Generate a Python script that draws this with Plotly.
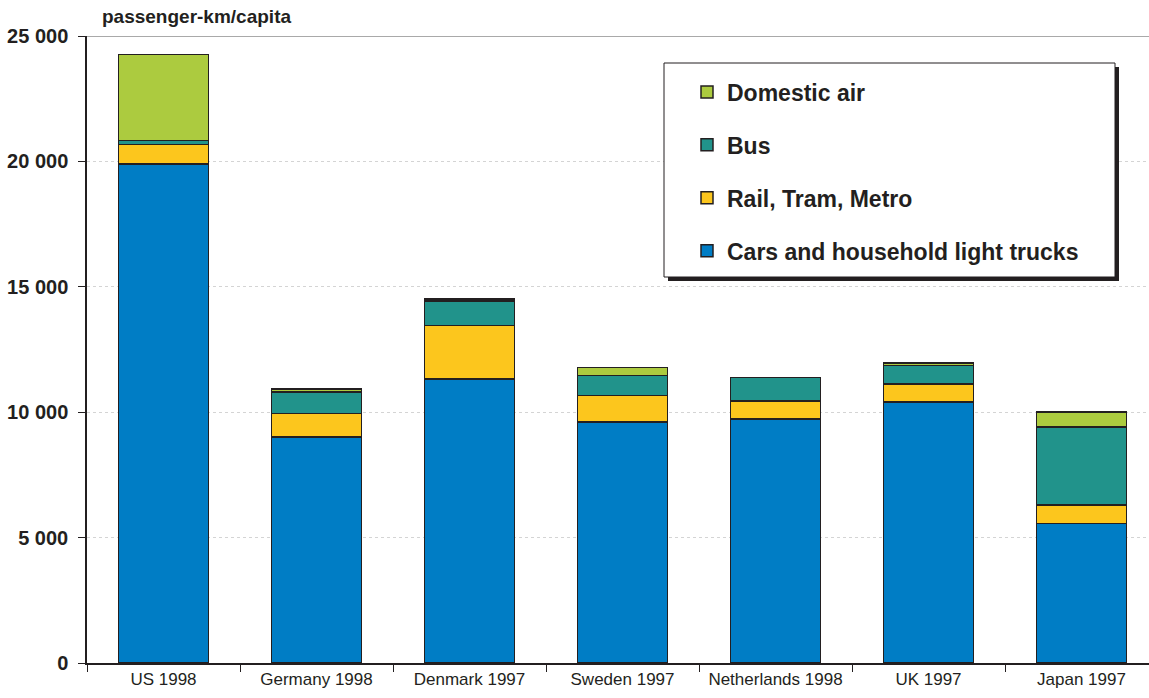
import plotly.graph_objects as go

# Passenger travel per capita by mode, selected countries
countries = ["US 1998", "Germany 1998", "Denmark 1997", "Sweden 1997",
             "Netherlands 1998", "UK 1997", "Japan 1997"]
cars = [19900, 9020, 11320, 9600, 9720, 10400, 5570]
rail = [780, 930, 2140, 1060, 730, 730, 730]
bus = [160, 860, 980, 810, 930, 730, 3120]
air = [3430, 110, 80, 320, 0, 100, 590]

y_ticks = [0, 5000, 10000, 15000, 20000, 25000]
y_tick_text = ["0", "5 000", "10 000", "15 000", "20 000", "25 000"]

series = [
    ("Cars and household light trucks", cars, "#007DC5"),
    ("Rail, Tram, Metro", rail, "#FCC61D"),
    ("Bus", bus, "#21938B"),
    ("Domestic air", air, "#ACCB3F"),
]

fig = go.Figure()
for i, (name, vals, color) in enumerate(series):
    fig.add_trace(go.Bar(
        x=countries, y=vals, name=name, width=0.59,
        legendgroup=f"g{i}", legendrank=1000 - i,
        marker=dict(color=color, line=dict(color="#231F20", width=1.5)),
    ))

W, H = 1149, 698
L, R, T, B = 87, 0, 36, 35
pw, ph = W - L - R, H - T - B

def px(x):
    return (x - L) / pw

def py(y):
    return (H - B - y) / ph

shapes = [
    # legend frame shadow and box
    dict(type="rect", xref="paper", yref="paper",
         x0=px(668), x1=px(1119), y0=py(281), y1=py(67),
         fillcolor="#231F20", line=dict(width=0), layer="above"),
    dict(type="rect", xref="paper", yref="paper",
         x0=px(664), x1=px(1115), y0=py(277), y1=py(63),
         fillcolor="white", line=dict(color="#231F20", width=1), layer="above"),
    # top border at 25 000
    dict(type="line", xref="paper", yref="y", x0=0, x1=1, y0=25000, y1=25000,
         line=dict(color="#8C8C8C", width=1.5)),
]

fig.update_layout(
    width=W, height=H,
    margin=dict(l=L, r=R, t=T, b=B, pad=0),
    barmode="stack",
    plot_bgcolor="white", paper_bgcolor="white",
    font=dict(family="Liberation Sans, Arial, sans-serif", color="#231F20"),
    shapes=shapes,
    showlegend=True,
    legend=dict(
        traceorder="grouped",
        tracegroupgap=20,
        x=px(687), y=py(70.5), xanchor="left", yanchor="top",
        bgcolor="rgba(0,0,0,0)", borderwidth=0,
        font=dict(size=23, family="Liberation Sans, Arial, sans-serif",
                  color="#231F20", weight="bold"),
        itemclick=False,
    ),
    annotations=[dict(
        text="<b>passenger-km/capita</b>", xref="paper", yref="paper",
        x=px(100), y=1, yshift=7, xanchor="left", yanchor="bottom",
        showarrow=False, font=dict(size=19, color="#231F20"),
    )],
)

fig.update_xaxes(
    range=[-0.5, (W - L) / 153 - 0.5],
    showline=True, linecolor="#231F20", linewidth=1.5,
    ticks="outside", tickson="boundaries", ticklen=7, tickcolor="#231F20",
    tickfont=dict(size=17, color="#231F20"),
    showgrid=False,
)
fig.update_yaxes(
    range=[0, 25000],
    tickvals=y_ticks, ticktext=y_tick_text,
    showline=True, linecolor="#231F20", linewidth=1.5,
    ticks="outside", ticklen=7, tickcolor="#231F20",
    ticklabelstandoff=6,
    tickfont=dict(size=20, color="#231F20", weight="bold"),
    showgrid=True, gridcolor="#D4D4D4", griddash="dot", gridwidth=1,
    zeroline=False,
)

fig.write_html("out.html")
